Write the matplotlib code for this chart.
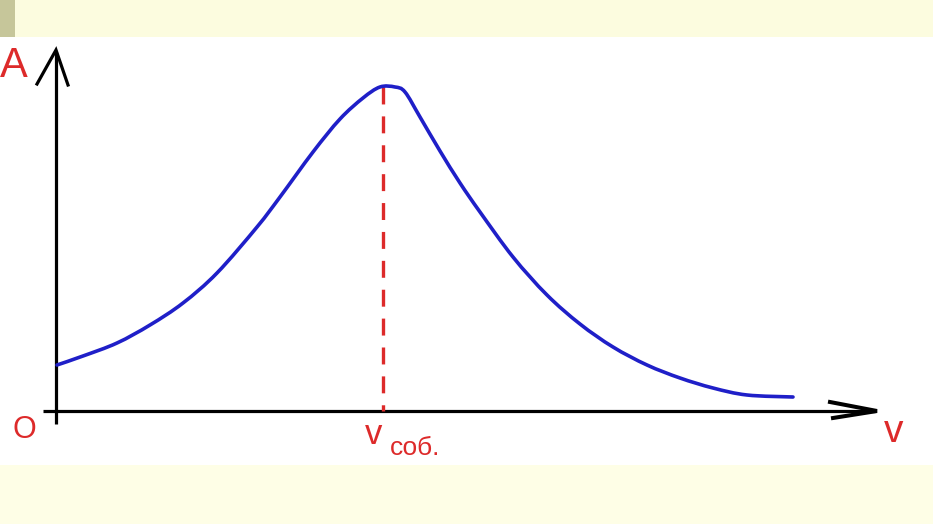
import matplotlib
matplotlib.use("Agg")
import matplotlib.pyplot as plt
import numpy as np
from matplotlib.patches import Rectangle, PathPatch
from matplotlib.path import Path

# Resonance curve: frequency nu (arbitrary units) vs amplitude A
nu = [0, 26, 60, 93, 126, 160, 200, 223, 256, 283, 306, 323, 338, 348,
      363, 383, 403, 423, 456, 490, 523, 556, 590, 623, 656, 690, 736]
amp = [46, 55, 68, 86, 108, 138, 184, 214, 259, 292, 313, 324, 324, 319,
       294, 260, 228, 199, 154, 116, 87, 64, 46, 33, 23, 16, 14]
nu_res = 326
amp_res = 324

label_A = "A"
label_O = "O"
label_nu = "v"
label_res = "v"
label_res_sub = "соб."

RED = "#dd2a2a"
BLUE = "#1f1fc8"
FONT = ["Liberation Sans", "DejaVu Sans"]


def smooth_path(xs, ys):
    """Catmull-Rom through the points, expressed as cubic Bezier segments."""
    p = np.column_stack([xs, ys]).astype(float)
    verts = [p[0]]
    codes = [Path.MOVETO]
    n = len(p)
    for i in range(n - 1):
        p0 = p[i - 1] if i > 0 else p[i]
        p1 = p[i]
        p2 = p[i + 1]
        p3 = p[i + 2] if i + 2 < n else p[i + 1]
        c1 = p1 + (p2 - p0) / 6.0
        c2 = p2 - (p3 - p1) / 6.0
        verts += [c1, c2, p2]
        codes += [Path.CURVE4] * 3
    return Path(verts, codes)


fig = plt.figure(figsize=(9.33, 5.24), dpi=100, facecolor="white")
# background decorations
fig.patches.append(Rectangle((0, 1 - 37 / 524), 1, 37 / 524, transform=fig.transFigure,
                             facecolor="#fcfcdf", edgecolor="none", zorder=0))
fig.patches.append(Rectangle((0, 1 - 37 / 524), 15 / 933, 37 / 524, transform=fig.transFigure,
                             facecolor="#c6c69a", edgecolor="none", zorder=0))
fig.patches.append(Rectangle((0, 0), 1, 59 / 524, transform=fig.transFigure,
                             facecolor="#fefee6", edgecolor="none", zorder=0))

ax = fig.add_axes([0, 0, 1, 1])
ax.set_xlim(-57, 876)
ax.set_ylim(-113, 411)
ax.axis("off")
ax.patch.set_alpha(0)

lw_axis = 2.3
# y axis with open arrow head
ax.plot([-1, -1], [-13, 359], color="black", lw=lw_axis, solid_capstyle="butt")
ax.plot([-20, -1, 11], [327, 361, 326], color="black", lw=lw_axis, solid_joinstyle="miter")
# x axis with open arrow head
ax.plot([-14, 818], [0, 0], color="black", lw=lw_axis, solid_capstyle="butt")
ax.plot([773, 820, 776], [9, 0, -7], color="black", lw=lw_axis + 0.6, solid_joinstyle="miter")

# resonance dashed line
lw_d = 2.4
ax.plot([nu_res, nu_res], [amp_res, 0], color=RED, lw=lw_d,
        linestyle=(0, (12.2 / lw_d, 8.6 / lw_d)), zorder=2)

# curve
ax.add_patch(PathPatch(smooth_path(nu, amp), facecolor="none", edgecolor=BLUE,
                       lw=2.6, capstyle="round", joinstyle="round", zorder=3))

# labels
ax.text(-57, 345, label_A, color=RED, fontsize=30, family=FONT, ha="left", va="center")
ax.text(-33, -19, label_O, color=RED, fontsize=22, family=FONT, ha="center", va="center")
ax.text(837, -21, label_nu, color=RED, fontsize=28, family=FONT, ha="center", va="center")
ax.text(317, -23, label_res, color=RED, fontsize=25, family=FONT, ha="center", va="center")
ax.text(333, -37, label_res_sub, color=RED, fontsize=19, family=FONT, ha="left", va="center")

fig.savefig("out.png", dpi=100, facecolor=fig.get_facecolor())
